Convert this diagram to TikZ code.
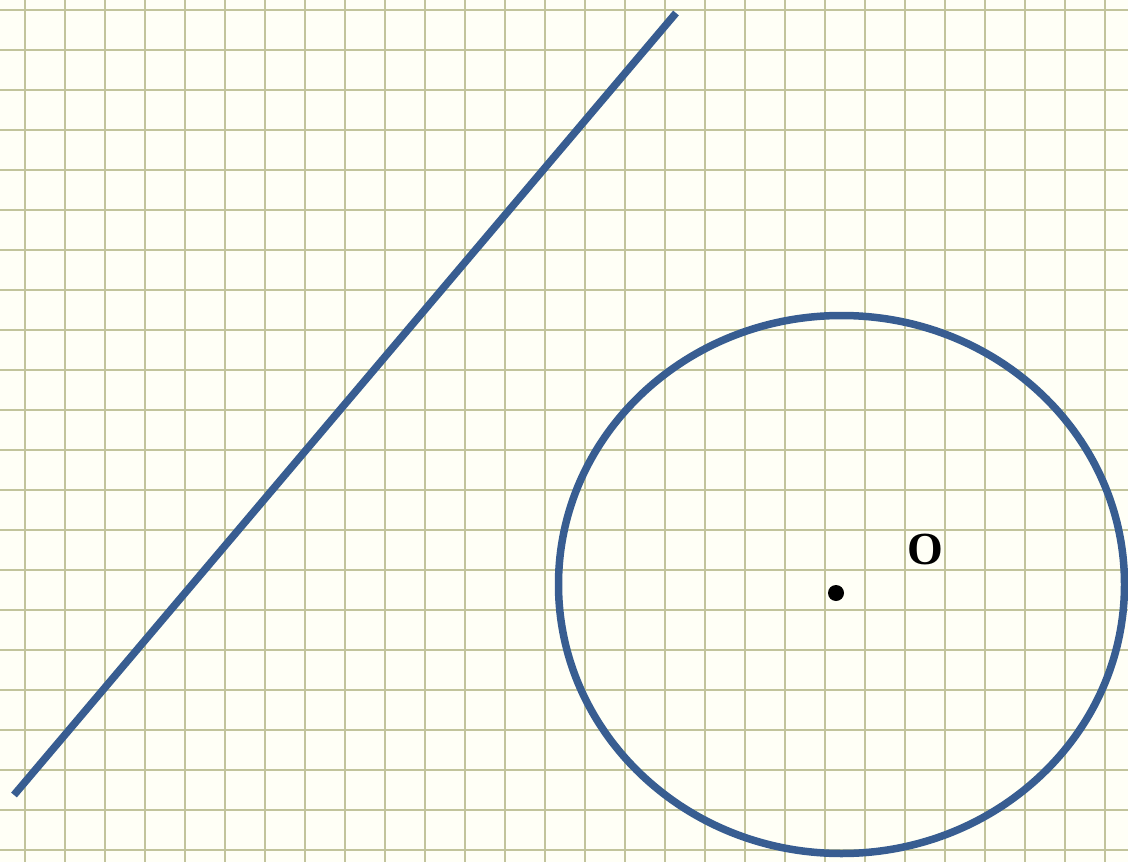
\documentclass[tikz,border=0pt]{standalone}
\usepackage{fontspec}
\setmainfont{Liberation Serif}
\usepackage{xcolor}
\usepackage{tikz}
\usetikzlibrary{positioning}

\definecolor{paper}{RGB}{255,255,246}
\definecolor{gridcol}{RGB}{194,196,156}
\definecolor{inkblue}{RGB}{56,93,145}

\begin{document}
\begin{tikzpicture}[
  x=1pt, y=-1pt,
  gridline/.style={draw=gridcol, line width=2.1pt},
  curve/.style={draw=inkblue, line width=7.5pt},
  centre/.style={circle, fill=black, inner sep=0pt, minimum size=16pt},
  lbl/.style={font=\bfseries\fontsize{46}{46}\selectfont, inner sep=0pt}
]
\fill[paper] (0,0) rectangle (1128,862);
\useasboundingbox (0,0) rectangle (1128,862);
% squared paper
\foreach \i in {0,...,27}
  \draw[gridline] (25+40*\i,0) -- (25+40*\i,862);
\foreach \j in {0,...,21}
  \draw[gridline] (0,10+40*\j) -- (1128,10+40*\j);
% line and circle
\coordinate (lowend) at (14,795);
\coordinate (topend) at (676,13);
\draw[curve] (lowend) -- (topend);
\coordinate (mid) at (841.5,584.5);
\draw[curve] (mid) ellipse [x radius=283, y radius=269];
\node[centre] (dot) at (836,593) {};
\node[lbl] (name) at (925,549) {O};
\end{tikzpicture}
\end{document}
